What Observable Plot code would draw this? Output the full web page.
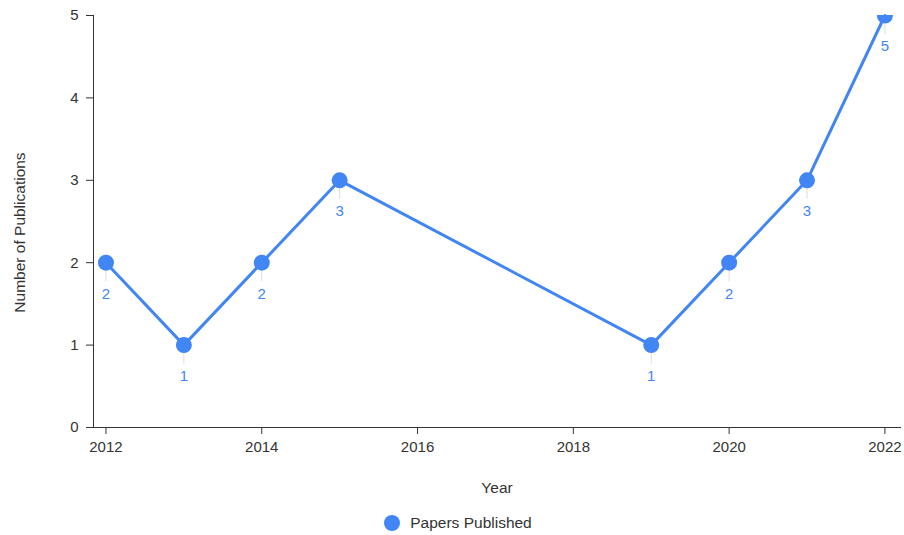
<!DOCTYPE html>
<html>
<head>
<meta charset="utf-8">
<script src="https://cdn.jsdelivr.net/npm/d3@7"></script>
<script src="https://cdn.jsdelivr.net/npm/@observablehq/plot@0.6"></script>
<style>
  html, body { margin: 0; padding: 0; background: #fff; }
  body { width: 904px; height: 535px; position: relative; overflow: hidden; font-family: "Liberation Sans", Arial, sans-serif; }
  #legend { position: absolute; left: 6px; top: 513px; width: 904px; height: 20px; display: flex; justify-content: center; align-items: center; font-size: 15.5px; color: #333; }
  #legend .sw { width: 16px; height: 16px; border-radius: 50%; background: #4285F4; margin-right: 10px; }
</style>
</head>
<body>
<div id="chart"></div>
<div id="legend"><span class="sw"></span><span>Papers Published</span></div>
<script>
const years = [2012, 2013, 2014, 2015, 2019, 2020, 2021, 2022];
const papers = [2, 1, 2, 3, 1, 2, 3, 5];
const xTicks = [2012, 2014, 2016, 2018, 2020, 2022];
const yTicks = [0, 1, 2, 3, 4, 5];
const seriesName = "Papers Published";
const xLabel = "Year";
const yLabel = "Number of Publications";
const color = "#4285F4";

const data = years.map((y, i) => ({year: y, count: papers[i]}));

const connector = {
  draw(context, l) { context.moveTo(0, 0); context.lineTo(0, -l); }
};

const chart = Plot.plot({
  width: 904,
  height: 505,
  marginLeft: 93,
  marginRight: 4,
  marginTop: 15,
  marginBottom: 78,
  style: {fontFamily: "'Liberation Sans', Arial, sans-serif", fontSize: "15px", color: "#333", background: "#fff"},
  x: {domain: [2011.84, 2022.2]},
  y: {domain: [0, 5]},
  marks: [
    Plot.frame({anchor: "left", stroke: "#333"}),
    Plot.frame({anchor: "bottom", stroke: "#333"}),
    Plot.axisY({ticks: yTicks, tickSize: 7, tickPadding: 8, tickFormat: d => String(d), label: null, stroke: "#333", fill: "#333", fontSize: 15}),
    Plot.axisX({ticks: xTicks, tickSize: 7, tickPadding: 7, tickFormat: d => String(d), label: null, stroke: "#333", fill: "#333", fontSize: 15}),
    Plot.text([yLabel], {frameAnchor: "left", textAnchor: "middle", lineAnchor: "middle", dx: -73, dy: 11, rotate: -90, fill: "#333", fontSize: 15.5}),
    Plot.text([xLabel], {frameAnchor: "bottom", textAnchor: "middle", lineAnchor: "middle", dy: 61, fill: "#333", fontSize: 15.5}),
    Plot.vector(data, {x: "year", y: "count", length: 10, rotate: 180, anchor: "start", shape: connector, dy: 8, stroke: "#dddddd", strokeWidth: 1}),
    Plot.line(data, {x: "year", y: "count", stroke: color, strokeWidth: 3}),
    Plot.dot(data, {x: "year", y: "count", r: 8, fill: color, stroke: "none", clip: true}),
    Plot.text(data, {x: "year", y: "count", text: d => String(d.count), dy: 31, fill: color, fontSize: 15})
  ]
});
document.getElementById("chart").appendChild(chart);
</script>
</body>
</html>
